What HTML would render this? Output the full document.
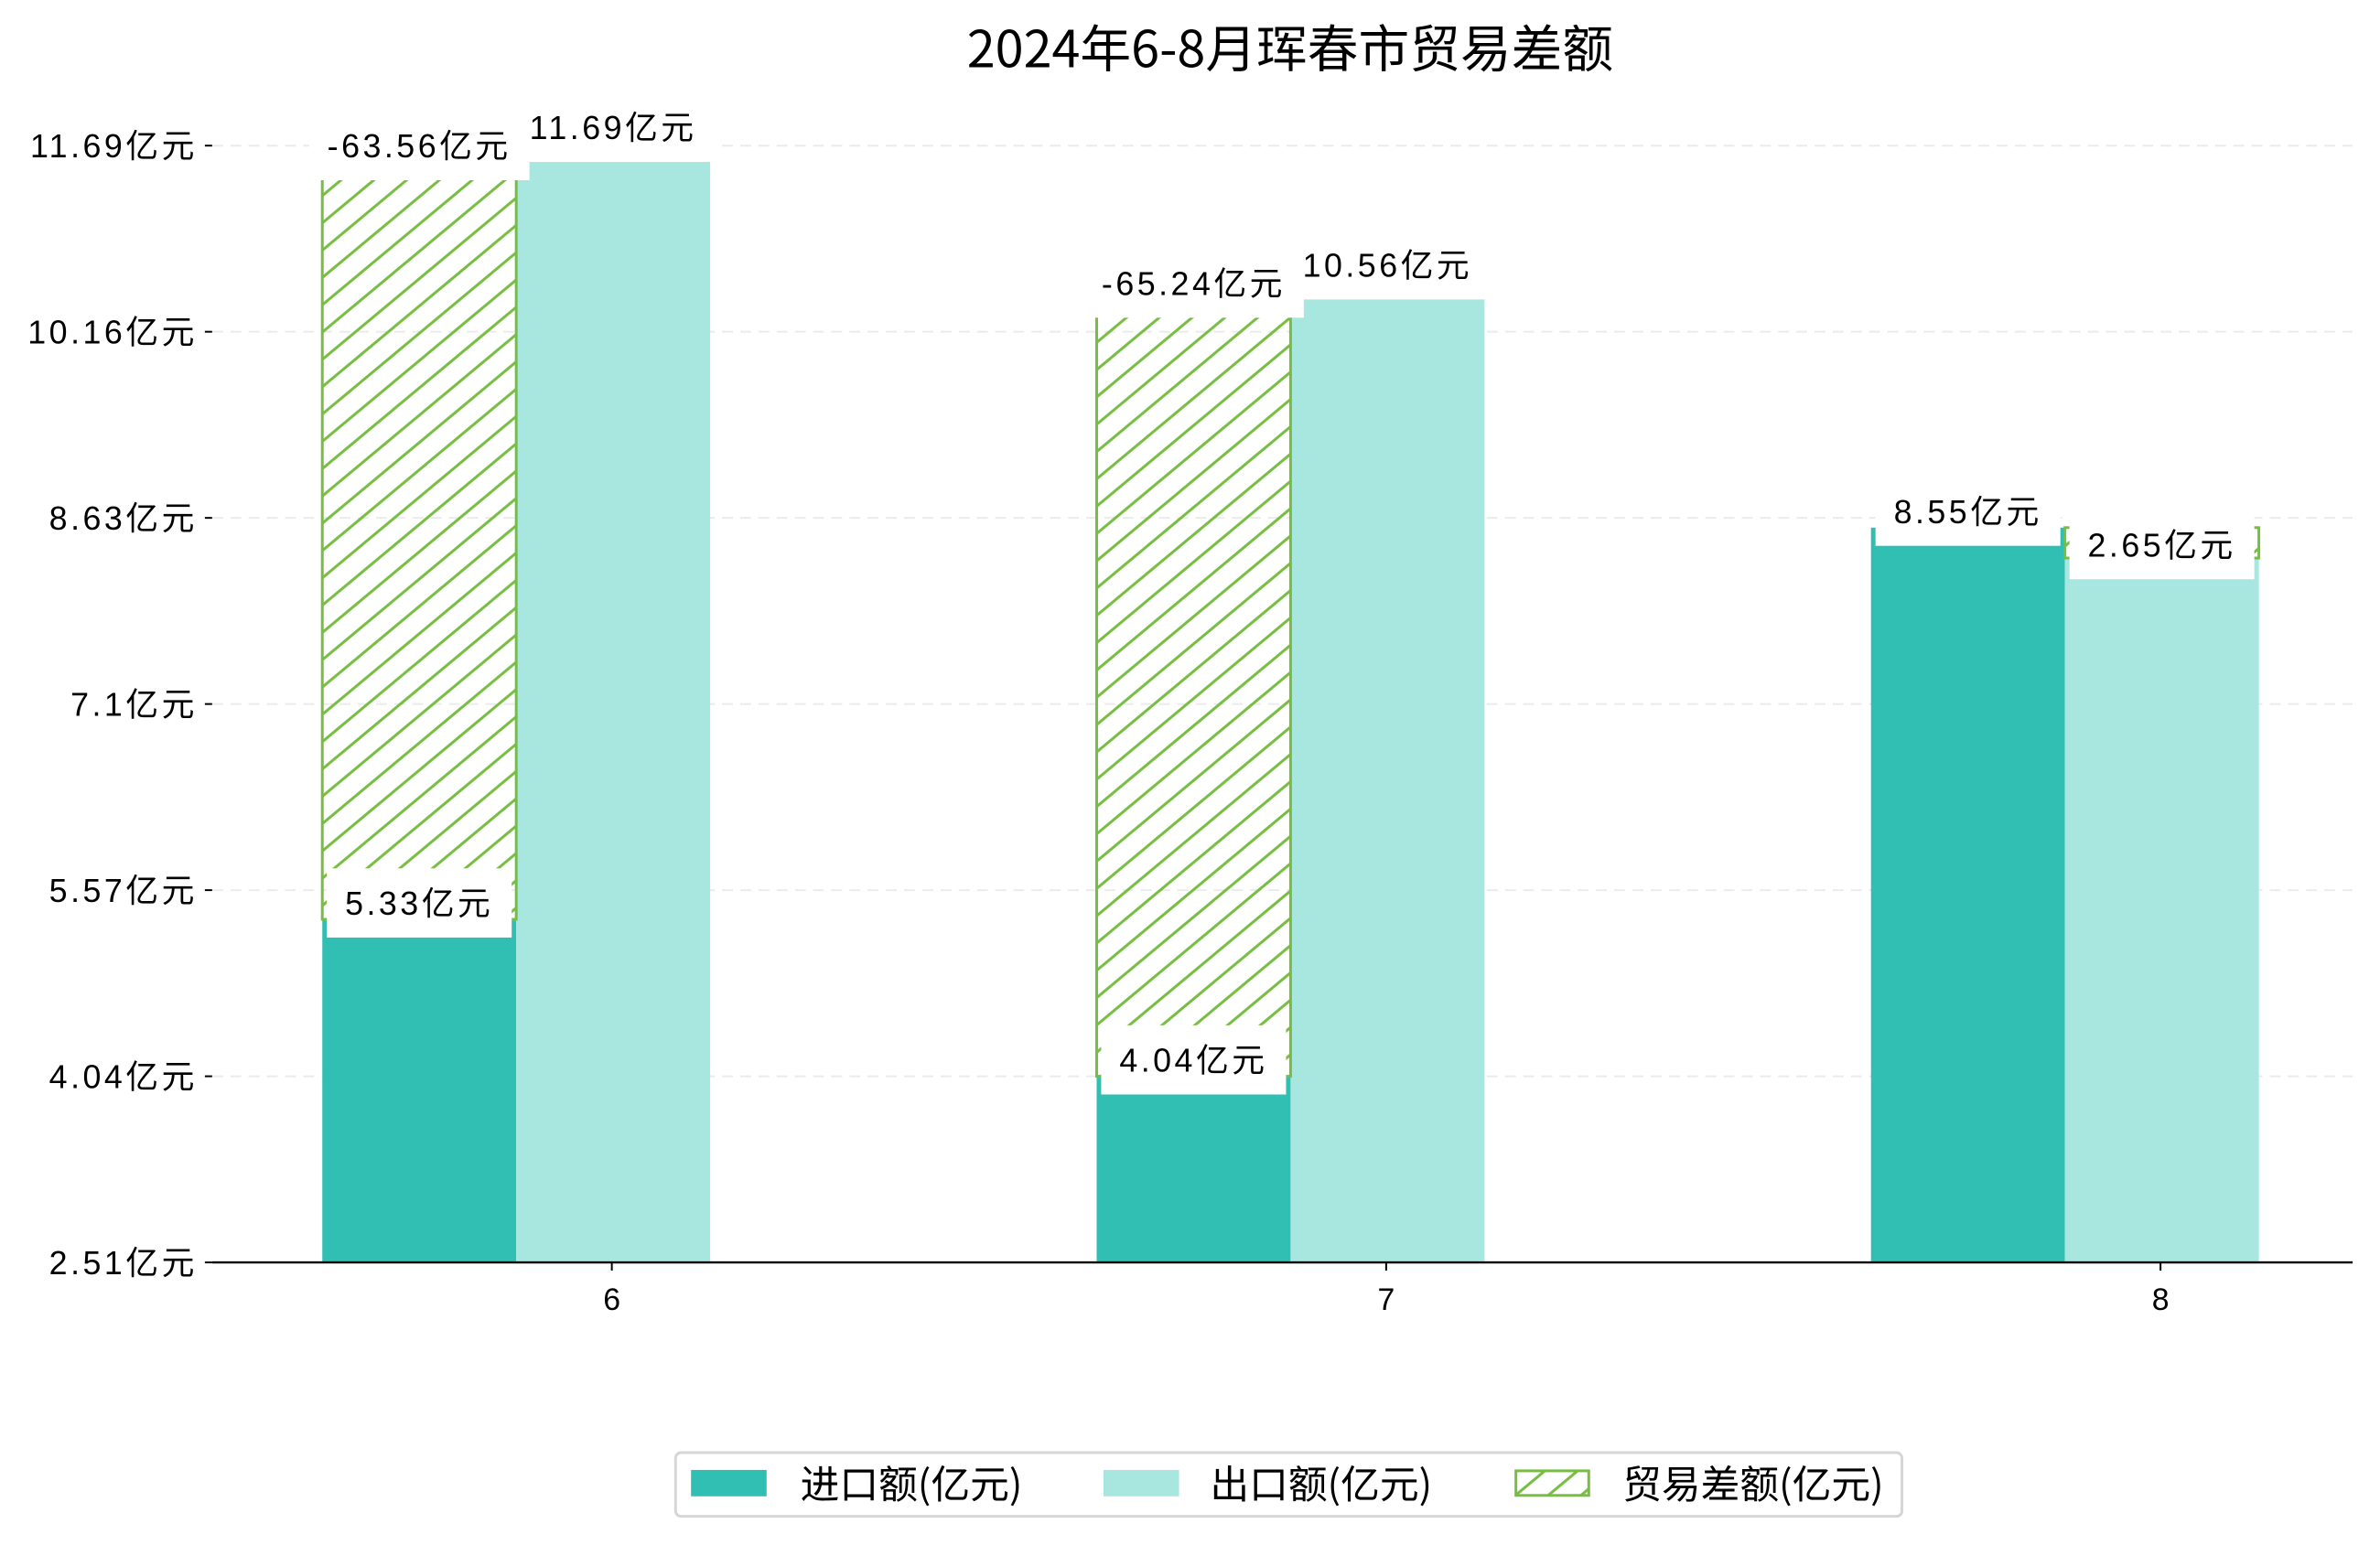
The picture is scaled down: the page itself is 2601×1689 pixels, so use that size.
<!DOCTYPE html>
<html><head><meta charset="utf-8"><style>
html,body{margin:0;padding:0;background:#fff;}
svg{display:block;font-family:"Liberation Sans","Noto Sans CJK SC",sans-serif;}
.lbl{letter-spacing:3.5px;}
</style></head><body>
<svg id="chart" width="2601" height="1689" viewBox="0 0 2601 1689">
<defs>
<pattern id="hatch" patternUnits="userSpaceOnUse" width="36" height="30">
<path d="M-36,60 L36,0 M0,60 L72,0 M-36,30 L36,-30 M0,30 L36,0" stroke="#76bd42" stroke-width="3"/>
</pattern>
</defs>
<g transform="scale(0.995)">
<text x="1417" y="74" text-anchor="middle" font-size="56" font-family="Noto Sans CJK SC, sans-serif">2024年6-8月珲春市贸易差额</text>
<g id="grid"></g>
<g id="bars"></g>
<g id="labels"></g>
<g id="axes"></g>
<g>
<rect x="742" y="1596" width="1347" height="70" rx="6" fill="#fff" stroke="#d6d6d6" stroke-width="3"/>
<rect x="759" y="1615" width="83" height="29" fill="#31bfb3"/>
<text x="879" y="1646" font-size="43" font-family="Noto Sans CJK SC, sans-serif">进口额(亿元)</text>
<rect x="1212" y="1615" width="83" height="29" fill="#a8e6e0"/>
<text x="1329" y="1646" font-size="43" font-family="Noto Sans CJK SC, sans-serif">出口额(亿元)</text>
<rect x="1665" y="1616" width="80" height="27" fill="url(#hatch)" stroke="#76bd42" stroke-width="3"/>
<text x="1782" y="1646" font-size="43" font-family="Noto Sans CJK SC, sans-serif">贸易差额(亿元)</text>
</g>
</g>
</svg>
<script>
const categories = ['6','7','8'];
const importVals = [5.33, 4.04, 8.55];
const exportVals = [11.69, 10.56, 8.30];
const balanceVals = [-63.56, -65.24, 2.65];
const tickLabels = ['2.51亿元','4.04亿元','5.57亿元','7.1亿元','8.63亿元','10.16亿元','11.69亿元'];
const tickVals = [2.51, 4.04, 5.57, 7.1, 8.63, 10.16, 11.69];

const NS='http://www.w3.org/2000/svg';
const X0=233, X1=2584, Y0=1387, YMIN=2.51, K=133.66;
const y = v => Y0-(v-YMIN)*K;
const cx = i => 672 + i*850.5;
const BW=213;
function mk(tag, attrs, parent){const e=document.createElementNS(NS,tag);for(const k in attrs)e.setAttribute(k,attrs[k]);parent.appendChild(e);return e;}
const grid=document.getElementById('grid'), bars=document.getElementById('bars'), labels=document.getElementById('labels'), axes=document.getElementById('axes');

tickVals.forEach((t,i)=>{
  const g=mk('line',{x1:X0,x2:X1,y1:y(t),y2:y(t),stroke:'#ebebeb','stroke-width':2,'stroke-dasharray':'12,8'},grid);
  
  
  const tk=mk('line',{x1:X0-8,x2:X0,y1:y(t),y2:y(t),stroke:'#000','stroke-width':2},axes);
  
  
  const tl=mk('text',{x:217,y:y(t)+13,'text-anchor':'end','font-size':36,'class':'lbl'},axes);
  tl.textContent=tickLabels[i];
  
  
});

function label(text, xc, yc, parent){
  const t=mk('text',{x:xc,y:yc+13,'text-anchor':'middle','font-size':36,'class':'lbl'},parent);
  t.textContent=text;
  const w=t.getBBox().width;
  const r=mk('rect',{x:xc-w/2-20,y:yc-38,width:w+40,height:76,fill:'#fff'},parent);
  parent.insertBefore(r,t);
  
  
  
  
}

categories.forEach((c,i)=>{
  const c0=cx(i);
  const ix=c0-318, ex=c0-105;
  const bi=mk('rect',{x:ix,y:y(importVals[i]),width:BW,height:Y0-y(importVals[i]),fill:'#31bfb3'},bars);
  
  
  const be=mk('rect',{x:ex,y:y(exportVals[i]),width:BW,height:Y0-y(exportVals[i]),fill:'#a8e6e0'},bars);
  
  
  const hi=Math.max(importVals[i],exportVals[i]), lo=Math.min(importVals[i],exportVals[i]);
  const hx = balanceVals[i]<0 ? ix : ex;
  const bh=mk('rect',{x:hx,y:y(hi),width:BW,height:y(lo)-y(hi),fill:'url(#hatch)',stroke:'#76bd42','stroke-width':3},bars);
  
  
  label(importVals[i].toFixed(2)+'亿元', ix+BW/2, y(importVals[i])-18, labels);
  if(balanceVals[i]<0){
    label(exportVals[i].toFixed(2)+'亿元', ex+BW/2, y(exportVals[i])-20, labels);
    label(balanceVals[i].toFixed(2)+'亿元', ix+BW/2, y(hi), labels);
  } else {
    label(balanceVals[i].toFixed(2)+'亿元', ex+BW/2, (y(hi)+y(lo))/2+2, labels);
  }
  const xt=mk('line',{x1:c0,x2:c0,y1:Y0,y2:Y0+9,stroke:'#000','stroke-width':2},axes);
  
  
  const xl=mk('text',{x:c0,y:Y0+52,'text-anchor':'middle','font-size':34},axes);
  xl.textContent=c;
  
  
});
const ax=mk('line',{x1:X0,x2:X1,y1:Y0,y2:Y0,stroke:'#000','stroke-width':2.5},axes);


</script>
</body></html>
